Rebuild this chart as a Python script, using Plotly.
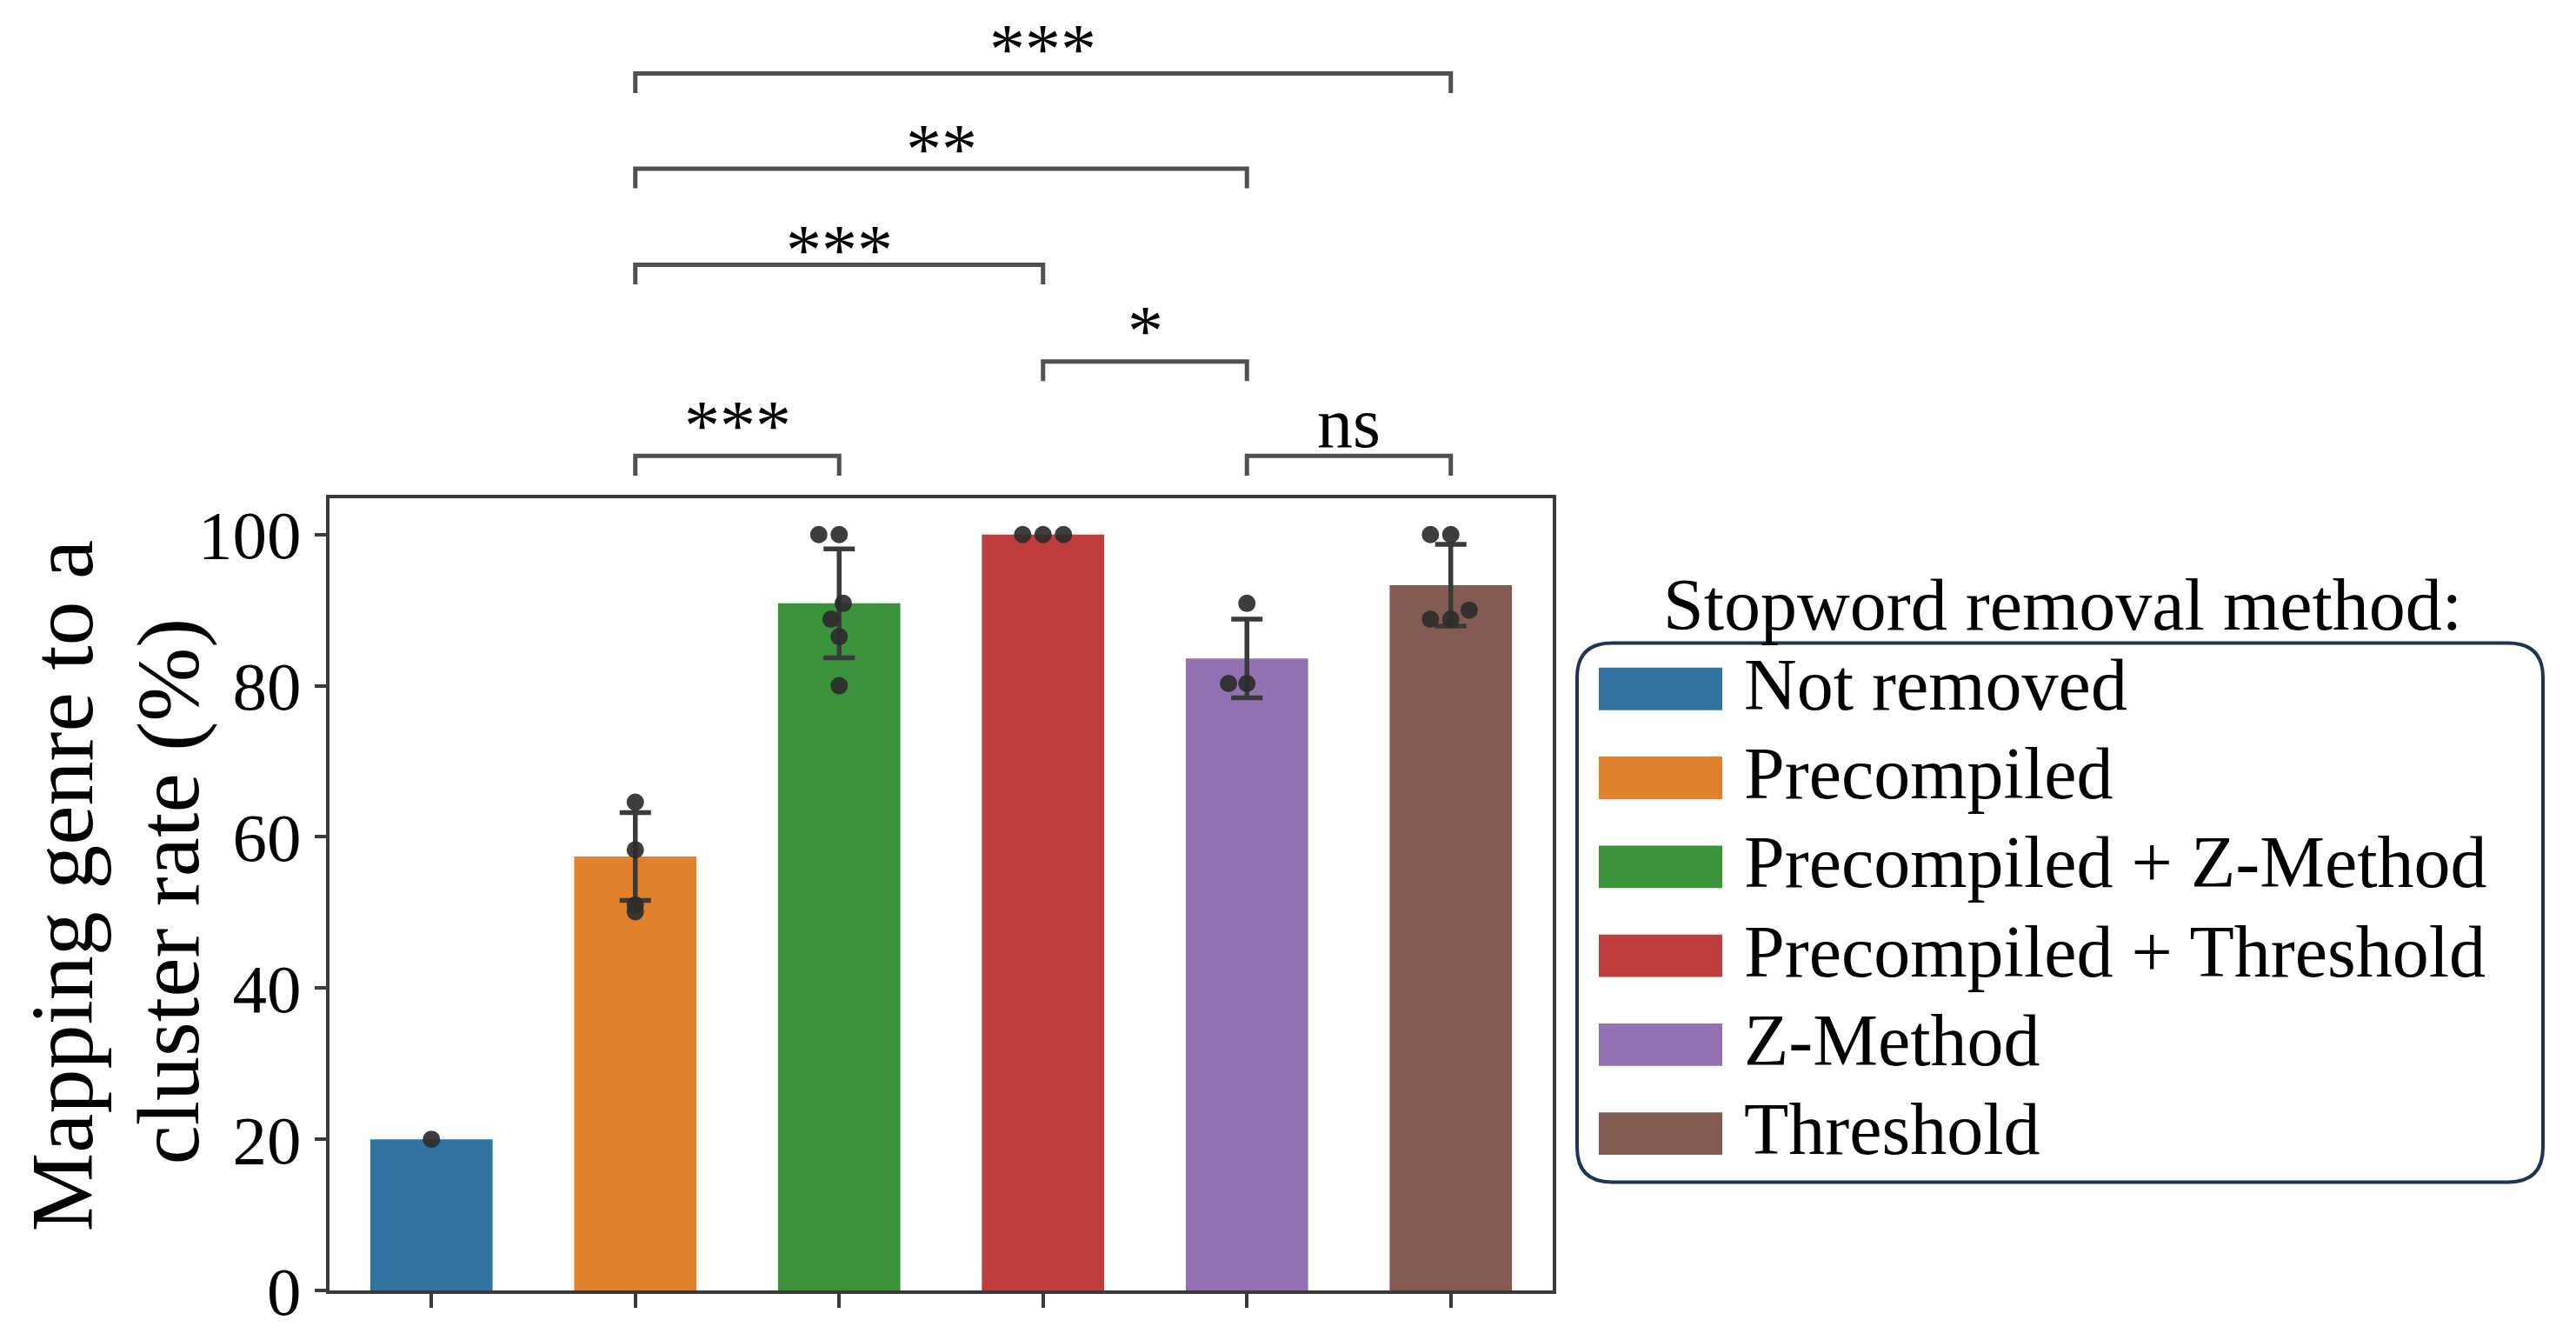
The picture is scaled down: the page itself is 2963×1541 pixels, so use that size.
import plotly.graph_objects as go

# ---------------- data ----------------
categories = ["Not removed", "Precompiled", "Precompiled + Z-Method",
              "Precompiled + Threshold", "Z-Method", "Threshold"]
mean_rate = [20.0, 57.4, 90.9, 100.0, 83.6, 93.3]
sd_rate = [0.0, 5.8, 7.2, 0.0, 5.2, 5.4]
points = [
    [20.0],
    [64.6, 58.3, 51.0, 50.1],
    [100.0, 100.0, 90.9, 88.8, 86.5, 80.0],
    [100.0, 100.0, 100.0],
    [90.9, 80.3, 80.3],
    [100.0, 100.0, 90.0, 88.8, 88.8],
]
jitter = [
    [0.0],
    [0.0, 0.0, 0.0, 0.0],
    [-0.1, 0.0, 0.02, -0.04, 0.0, 0.0],
    [-0.1, 0.0, 0.1],
    [0.0, -0.09, 0.0],
    [-0.1, 0.0, 0.09, -0.1, 0.0],
]
comparisons = [(1, 2, "***"), (4, 5, "ns"), (3, 4, "*"),
               (1, 3, "***"), (1, 4, "**"), (1, 5, "***")]
y_ticks = [0, 20, 40, 60, 80, 100]
y_title_lines = ["Mapping genre to a", "cluster rate (%)"]
legend_title = "Stopword removal method:"

# ---------------- styling / layout ----------------
colors = ["#3274a1", "#e1812c", "#3a923a", "#c03d3e", "#9372b2", "#845b53"]
W, H = 2963, 1541
PL, PR, PT, PB = 379, 1786, 573, 1487
Y_MAX = 104.8
FONT = "Liberation Serif, Times New Roman, serif"
DARK = "#3a3a3a"

# bracket line heights and label centre heights (in y-axis units, above the axis top)
bracket_line = [110.4, 110.4, 122.9, 135.7, 148.4, 161.0]
label_y = [114.4, 114.7, 126.9, 137.6, 151.0, 164.2]
TIP = 2.6


def ppx(px):
    return (px - PL) / (PR - PL)


def ppy(py):
    return (PB - py) / (PB - PT)


def yv(v):
    return v / Y_MAX


fig = go.Figure()

for i, cat in enumerate(categories):
    fig.add_trace(go.Bar(
        x=[i], y=[mean_rate[i]], width=0.6, name=cat,
        marker=dict(color=colors[i], line=dict(width=0)),
        error_y=dict(type="data", array=[sd_rate[i]], visible=sd_rate[i] > 0,
                     color=DARK, thickness=5.5, width=18),
        showlegend=False,
    ))

xs, ys = [], []
for i in range(len(categories)):
    for v, j in zip(points[i], jitter[i]):
        xs.append(i + j)
        ys.append(v)
fig.add_trace(go.Scatter(
    x=xs, y=ys, mode="markers", showlegend=False,
    marker=dict(color="rgba(45,45,45,0.92)", size=20, line=dict(width=0)),
    cliponaxis=False,
))

shapes = []
annotations = []

# significance brackets
for (a, b, lab), hl, ly in zip(comparisons, bracket_line, label_y):
    y1 = yv(hl)
    y0 = yv(hl - TIP)
    shapes.append(dict(
        type="path", xref="x", yref="paper",
        path=f"M {a},{y0} L {a},{y1} L {b},{y1} L {b},{y0}",
        line=dict(color="#505050", width=5),
    ))
    annotations.append(dict(
        x=(a + b) / 2, y=yv(ly), xref="x", yref="paper",
        text=lab, showarrow=False, xanchor="center", yanchor="middle",
        font=dict(family=FONT, size=82, color="black"),
    ))

# y-axis title (two lines placed separately for tighter line spacing)
for txt, cx, cy in zip(y_title_lines, [72, 194], [1020, 1027]):
    annotations.append(dict(
        x=ppx(cx), y=ppy(cy), xref="paper", yref="paper",
        text=txt, showarrow=False, textangle=-90,
        xanchor="center", yanchor="middle",
        font=dict(family=FONT, size=102, color="black"),
    ))

# legend (drawn manually)
bx0, bx1, by0, by1, r = 1814, 2925, 740, 1362, 40
rx = r / (PR - PL)
ry = r / (PB - PT)
X0, X1, Y0, Y1 = ppx(bx0), ppx(bx1), ppy(by1), ppy(by0)
path = (f"M {X0 + rx},{Y1} L {X1 - rx},{Y1} Q {X1},{Y1} {X1},{Y1 - ry} "
        f"L {X1},{Y0 + ry} Q {X1},{Y0} {X1 - rx},{Y0} "
        f"L {X0 + rx},{Y0} Q {X0},{Y0} {X0},{Y0 + ry} "
        f"L {X0},{Y1 - ry} Q {X0},{Y1} {X0 + rx},{Y1} Z")
shapes.append(dict(type="path", xref="paper", yref="paper", path=path,
                   line=dict(color="#1f3354", width=4), fillcolor="rgba(0,0,0,0)"))

annotations.append(dict(
    x=ppx(2372), y=ppy(696), xref="paper", yref="paper",
    text=legend_title, showarrow=False, xanchor="center", yanchor="middle",
    font=dict(family=FONT, size=84, color="black"),
))

row0, pitch = 793, 102.6
for i, cat in enumerate(categories):
    cy = row0 + pitch * i
    shapes.append(dict(
        type="rect", xref="paper", yref="paper",
        x0=ppx(1839), x1=ppx(1981), y0=ppy(cy + 24.5), y1=ppy(cy - 24.5),
        fillcolor=colors[i], line=dict(width=0),
    ))
    annotations.append(dict(
        x=ppx(2004), y=ppy(cy - 5), xref="paper", yref="paper",
        text=cat, showarrow=False, xanchor="left", yanchor="middle",
        font=dict(family=FONT, size=84, color="black"),
    ))

fig.update_layout(
    width=W, height=H,
    margin=dict(l=PL, r=W - PR, t=PT, b=H - PB, pad=0),
    paper_bgcolor="white", plot_bgcolor="white",
    shapes=shapes, annotations=annotations,
    font=dict(family=FONT, color="black"),
)
fig.update_xaxes(
    range=[-0.5, 5.5], tickvals=list(range(len(categories))),
    showticklabels=False, ticks="outside", ticklen=16, tickwidth=3.5,
    tickcolor=DARK, showline=True, linecolor=DARK, linewidth=3.5,
    mirror=True, showgrid=False, zeroline=False,
)
fig.update_yaxes(
    range=[0, Y_MAX], tickvals=y_ticks,
    ticks="outside", ticklen=13, tickwidth=3.5, tickcolor=DARK,
    tickfont=dict(family=FONT, size=79, color="black"),
    ticklabelstandoff=0,
    showline=True, linecolor=DARK, linewidth=3.5,
    mirror=True, showgrid=False, zeroline=False,
)

fig.write_html("out.html", config={"displayModeBar": False},
               post_script="document.body.style.margin='0';")
